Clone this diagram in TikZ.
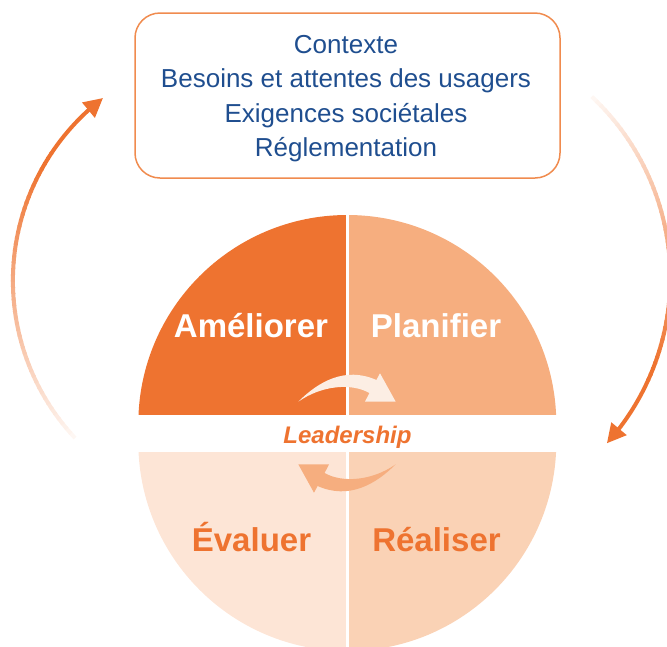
\documentclass[tikz,border=0pt]{standalone}
\usepackage{fontspec}
\setmainfont{Liberation Sans}
\usetikzlibrary{arrows.meta,bending}
\definecolor{orD}{HTML}{EE7330}
\definecolor{orM}{HTML}{F6AE7F}
\definecolor{orL}{HTML}{FAD2B5}
\definecolor{orXL}{HTML}{FDE5D6}
\definecolor{arW}{HTML}{FCEEE4}
\definecolor{txtB}{HTML}{1F4E8F}
\definecolor{boxO}{HTML}{F08B4E}
\begin{document}
\begin{tikzpicture}[x=1pt,y=-1pt,
  ctxbox/.style={draw=boxO, line width=1.5pt, rounded corners=25pt, minimum width=425pt, minimum height=165pt, inner sep=0pt},
  ctxline/.style={anchor=base, text=txtB, font=\fontsize{26}{30}\selectfont, inner sep=0pt},
  lbltop/.style={anchor=base, text=white, font=\fontsize{33}{36}\selectfont\bfseries, inner sep=0pt},
  lblbot/.style={anchor=base, text=orD, font=\fontsize{33}{36}\selectfont\bfseries, inner sep=0pt},
  leadlbl/.style={anchor=base, text=orD, font=\fontsize{24}{28}\selectfont\bfseries\itshape, inner sep=0pt},
  bigarc/.style={line width=4pt, line cap=butt},
  bigtip/.style={-{Triangle[length=19pt,width=19pt]}},
  cyclearrow/.pic={
    \fill[pic actions] (-48.7,-31.3) .. controls (-29,-51) and (-2,-67) .. (29.4,-53)
      -- (33,-59.7) -- (48.7,-31.3) -- (18,-31.3) -- (22.4,-40)
      .. controls (5,-50) and (-25,-48) .. (-48.7,-31.3) -- cycle;
  }]
\useasboundingbox (0,0) rectangle (667,646);

% context box
\node[ctxbox] (ctx) at (347.5,95.5) {};
\node[ctxline] (c1) at (346,53.3) {Contexte};
\node[ctxline] (c2) at (346,87.7) {Besoins et attentes des usagers};
\node[ctxline] (c3) at (346,122) {Exigences sociétales};
\node[ctxline] (c4) at (346,156.5) {Réglementation};

% quadrants
\coordinate (ctop) at (347.3,424);
\coordinate (cbot) at (347.3,442);
\begin{scope}
  \clip (0,0) rectangle (347.3,414);
  \fill[orD] (ctop) circle[radius=209];
\end{scope}
\begin{scope}
  \clip (347.3,0) rectangle (667,414);
  \fill[orM] (ctop) circle[radius=209];
\end{scope}
\begin{scope}
  \clip (0,452) rectangle (347.3,700);
  \fill[orXL] (cbot) circle[radius=209];
\end{scope}
\begin{scope}
  \clip (347.3,452) rectangle (667,700);
  \fill[orL] (cbot) circle[radius=209];
\end{scope}
\draw[white, line width=3.2pt] (347.3,200) -- (347.3,660);

% inner cycle arrows
\pic[fill=arW] at (347,433) {cyclearrow};
\pic[fill=orM, rotate=180] at (347,433) {cyclearrow};

% labels
\node[lbltop] (amel) at (251,337.7) {Améliorer};
\node[lbltop] (plan) at (436,337.7) {Planifier};
\node[lblbot] (eval) at (251.5,551.7) {Évaluer};
\node[lblbot] (real) at (436.5,551.7) {Réaliser};
\node[leadlbl] (lead) at (347.5,443.3) {Leadership};

% big outer arrows with fading
\coordinate (CL) at (243.2,280.7);
\coordinate (CR) at (422.3,277.7);
\foreach \i in {0,...,49}{
  \pgfmathsetmacro{\ta}{136.9 + \i*(213.4-136.9)/50}
  \pgfmathsetmacro{\tb}{\ta + (213.4-136.9)/50 + 0.4}
  \pgfmathtruncatemacro{\pc}{min(100, 6 + 2.0053*\i)}
  \draw[bigarc, draw=orD!\pc!white] (CL) ++(\ta:230.3) arc[start angle=\ta, end angle=\tb, radius=230.3];
}
\draw[bigarc, bigtip, orD] (CL) ++(213.4:230.3) arc[start angle=213.4, end angle=232.5, radius=230.3];
\foreach \i in {0,...,49}{
  \pgfmathsetmacro{\ta}{-46.9 + \i*(24.14+46.9)/50}
  \pgfmathsetmacro{\tb}{\ta + (24.14+46.9)/50 + 0.4}
  \pgfmathtruncatemacro{\pc}{min(100, 6 + 2.0053*\i)}
  \draw[bigarc, draw=orD!\pc!white] (CR) ++(\ta:248) arc[start angle=\ta, end angle=\tb, radius=248];
}
\draw[bigarc, bigtip, orD] (CR) ++(24.14:248) arc[start angle=24.14, end angle=41.9, radius=248];
\end{tikzpicture}
\end{document}
